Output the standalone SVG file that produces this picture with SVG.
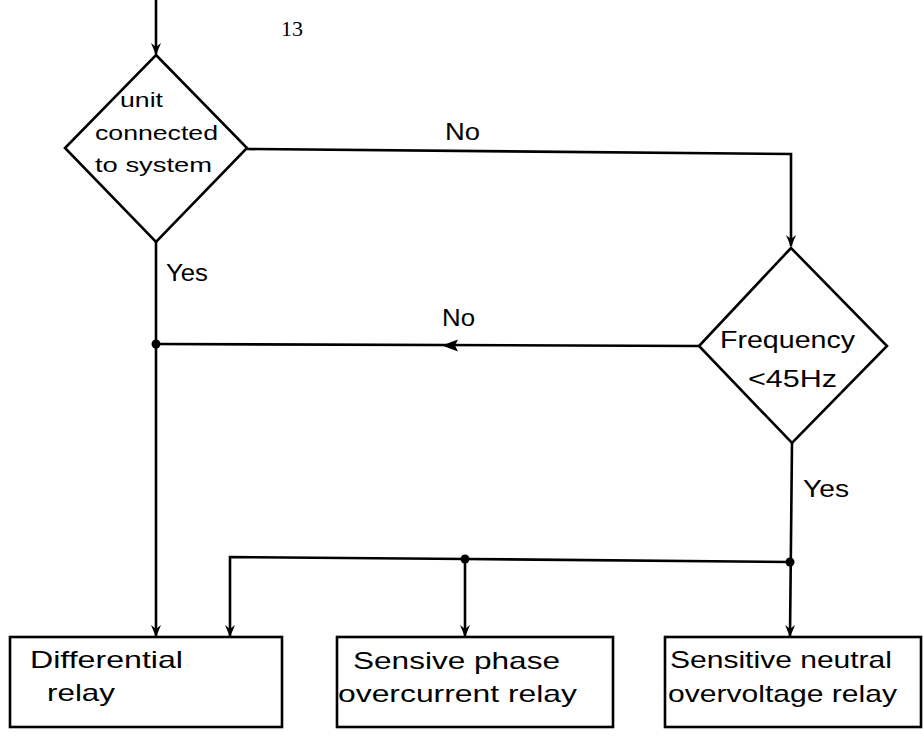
<svg xmlns="http://www.w3.org/2000/svg" width="923" height="737" viewBox="0 0 923 737">
<style>
.ln{fill:none;stroke:#000;stroke-width:2.6;stroke-linejoin:miter}
.shape{fill:#fff;stroke:#000;stroke-width:2.6}
.t{font-family:"Liberation Sans","DejaVu Sans",Arial,sans-serif;font-size:24px;fill:#000}
.s{font-size:20px}
.pg{font-family:"Liberation Serif","Times New Roman",serif;font-size:22px;fill:#000}
</style>
<defs>
<marker id="ah" viewBox="0 0 12 12" refX="11" refY="6" markerWidth="12" markerHeight="12" markerUnits="userSpaceOnUse" orient="auto">
<path d="M0,1 L12,6 L0,11 L4,6 Z" fill="#000"/>
</marker>
</defs>
<rect width="923" height="737" fill="#fff"/>
<text class="pg" x="292" y="36" text-anchor="middle">13</text>
<g id="connectors">
<line class="ln" x1="156" y1="0" x2="156" y2="54" marker-end="url(#ah)"/>
<polyline class="ln" points="247,149 791,154 791,246" marker-end="url(#ah)"/>
<line class="ln" x1="156" y1="242" x2="156" y2="636" marker-end="url(#ah)"/>
<line class="ln" x1="699" y1="346" x2="156" y2="344"/>
<path d="M442,345.5 L458,339.5 L455,345.5 L458,351.5 Z" fill="#000"/>
<line class="ln" x1="792" y1="443" x2="790" y2="636" marker-end="url(#ah)"/>
<polyline class="ln" points="790,562 465,559 230,557 230,636" marker-end="url(#ah)"/>
<line class="ln" x1="465" y1="559" x2="465" y2="636" marker-end="url(#ah)"/>
<circle cx="156" cy="344" r="4.5" fill="#000"/>
<circle cx="465" cy="559" r="4.5" fill="#000"/>
<circle cx="790" cy="562" r="4.5" fill="#000"/>
<text class="t" x="445" y="140" textLength="35" lengthAdjust="spacingAndGlyphs">No</text>
<text class="t" x="166" y="281" textLength="42" lengthAdjust="spacingAndGlyphs">Yes</text>
<text class="t" x="442" y="326" textLength="33" lengthAdjust="spacingAndGlyphs">No</text>
<text class="t" x="803" y="497" textLength="46" lengthAdjust="spacingAndGlyphs">Yes</text>
</g>
<g id="decision1">
<polygon class="shape" points="156,55 247,148 156,242 65,148"/>
<text class="t s" x="120" y="107" textLength="43" lengthAdjust="spacingAndGlyphs">unit</text>
<text class="t s" x="95" y="140" textLength="123" lengthAdjust="spacingAndGlyphs">connected</text>
<text class="t s" x="95" y="172" textLength="117" lengthAdjust="spacingAndGlyphs">to system</text>
</g>
<g id="decision2">
<polygon class="shape" points="791,248 887,346 792,443 699,346"/>
<text class="t" x="720" y="348" textLength="135" lengthAdjust="spacingAndGlyphs">Frequency</text>
<text class="t" x="748" y="387" textLength="89" lengthAdjust="spacingAndGlyphs">&lt;45Hz</text>
</g>
<g id="box1">
<rect class="shape" x="10" y="637" width="272" height="90"/>
<text class="t" x="30" y="668" textLength="153" lengthAdjust="spacingAndGlyphs">Differential</text>
<text class="t" x="47" y="701" textLength="68" lengthAdjust="spacingAndGlyphs">relay</text>
</g>
<g id="box2">
<rect class="shape" x="337" y="637" width="276" height="90"/>
<text class="t" x="353" y="669" textLength="207" lengthAdjust="spacingAndGlyphs">Sensive  phase</text>
<text class="t" x="338" y="702" textLength="239" lengthAdjust="spacingAndGlyphs">overcurrent relay</text>
</g>
<g id="box3">
<rect class="shape" x="665" y="637" width="256" height="90"/>
<text class="t" x="670" y="668" textLength="222" lengthAdjust="spacingAndGlyphs">Sensitive neutral</text>
<text class="t" x="668" y="702" textLength="229" lengthAdjust="spacingAndGlyphs">overvoltage relay</text>
</g>
</svg>
